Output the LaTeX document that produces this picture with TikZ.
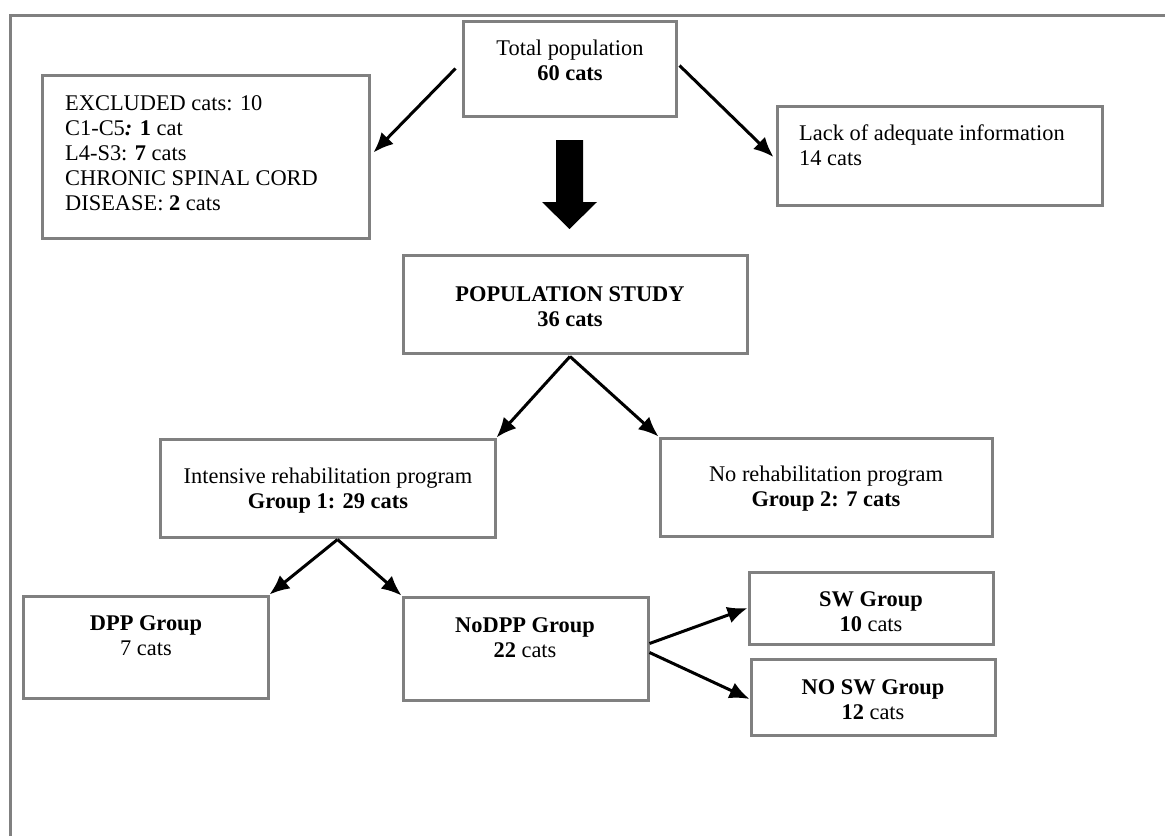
\documentclass[tikz,border=0pt]{standalone}
\usepackage{fontspec}
\setmainfont{Liberation Serif}
\usetikzlibrary{arrows.meta}
\definecolor{boxgray}{HTML}{808080}
\begin{document}
\begin{tikzpicture}[x=1pt,y=-1pt,
  box/.style={draw=boxgray,line width=3pt,inner sep=0pt},
  txt/.style={inner sep=0pt,font=\fontsize{22.4}{25}\selectfont},
  arr/.style={line width=3pt,-{Latex[length=20pt,width=17pt]}}]
\useasboundingbox[fill=white] (0,0) rectangle (1165,836);
% outer frame
\draw[boxgray,line width=3pt] (10,836) -- (10,15) -- (1165,15);
% boxes
\node[box,minimum width=213pt,minimum height=95pt] (tot) at (569.5,68.5) {};
\node[box,minimum width=327pt,minimum height=163pt] (excl) at (205.5,156.5) {};
\node[box,minimum width=325pt,minimum height=99pt] (lack) at (939.5,155.5) {};
\node[box,minimum width=344pt,minimum height=98pt] (pop) at (575,304) {};
\node[box,minimum width=335pt,minimum height=98pt] (int) at (327.5,488) {};
\node[box,minimum width=332pt,minimum height=98pt] (norehab) at (826,487) {};
\node[box,minimum width=245pt,minimum height=102pt] (dpp) at (145.5,647) {};
\node[box,minimum width=245pt,minimum height=103pt] (nodpp) at (525.5,648.5) {};
\node[box,minimum width=244pt,minimum height=72pt] (sw) at (871,608) {};
\node[box,minimum width=244pt,minimum height=76pt] (nosw) at (873,697) {};
% texts
\node[txt,align=center] (tottxt) at (570,60.5) {Total population\\\textbf{60 cats}};
\node[txt,align=left,anchor=west] (excltxt) at (65,153) {EXCLUDED cats: 10\\C1-C5\textbf{\textit{:} 1} cat\\L4-S3: \textbf{7} cats\\CHRONIC SPINAL CORD\\DISEASE: \textbf{2} cats};
\node[txt,align=left,anchor=west] (lacktxt) at (799,145.5) {Lack of adequate information\\14 cats};
\node[txt,align=center] (poptxt) at (570,306.5) {\textbf{POPULATION STUDY}\\\textbf{36 cats}};
\node[txt,align=center] (inttxt) at (328,491) {Intensive rehabilitation program\\\textbf{Group 1: 29 cats}};
\node[txt,align=center] (norehabtxt) at (826,488.5) {No rehabilitation program\\\textbf{Group 2: 7 cats}};
\node[txt,align=center] (dpptxt) at (146,635.5) {\textbf{DPP Group}\\7 cats};
\node[txt,align=center] (nodpptxt) at (525,637.5) {\textbf{NoDPP Group}\\\textbf{22} cats};
\node[txt,align=center] (swtxt) at (871,611.5) {\textbf{SW Group}\\\textbf{10} cats};
\node[txt,align=center] (noswtxt) at (873,699.5) {\textbf{NO SW Group}\\\textbf{12} cats};
% big arrow
\fill[black] (556,140) -- (583,140) -- (583,202) -- (597,202) -- (569.5,229) -- (542,202) -- (556,202) -- cycle;
% connectors
\draw[arr] ([xshift=-6pt]tot.west) -- ([xshift=3pt,yshift=4pt]excl.east);
\draw[arr] ([xshift=2pt,yshift=3pt]tot.east) -- ([xshift=-2pt,yshift=-1.5pt]lack.west);
\draw[arr] ([xshift=-5pt,yshift=-2pt]pop.south) -- (int.north east);
\draw[arr] ([xshift=-5pt,yshift=-2pt]pop.south) -- (norehab.north west);
\draw[arr] ([xshift=10pt,yshift=-1pt]int.south) -- (dpp.north east);
\draw[arr] ([xshift=10pt,yshift=-1pt]int.south) -- (nodpp.north west);
\draw[arr] ([yshift=5pt]nodpp.east) -- (sw.west);
\draw[arr] ([yshift=-4pt]nodpp.east) -- ([yshift=-2pt]nosw.west);
\end{tikzpicture}
\end{document}
